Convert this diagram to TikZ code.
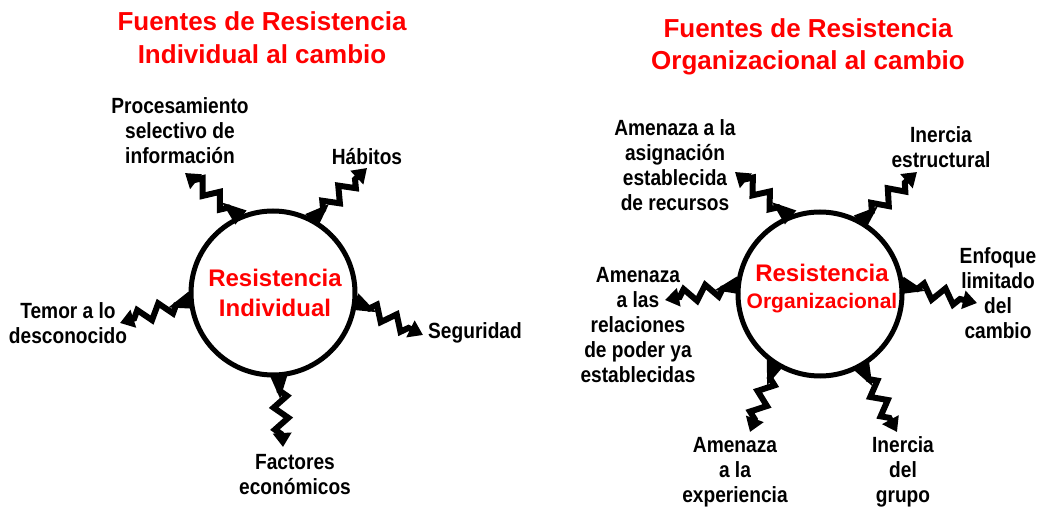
\documentclass[tikz,border=0pt]{standalone}
\usepackage{fontspec}
\setmainfont{Liberation Sans}
\newfontfamily\labfam{Liberation Sans}[FakeStretch=0.87]
\usetikzlibrary{decorations.pathmorphing,arrows.meta,calc}
\definecolor{tred}{RGB}{255,0,0}
\newcommand{\wedgebase}[2]{%
  \fill ($(#1)!9pt!90:(#2)$) -- ($(#1)!24pt!(#2)$) -- ($(#1)!9pt!-90:(#2)$) -- cycle;}
\begin{document}
\begin{tikzpicture}[x=1pt,y=-1pt]
\tikzset{
  ring/.style={circle, draw, line width=5pt, minimum size=164pt, inner sep=0pt, outer sep=0pt},
  lab/.style={font=\labfam\bfseries\fontsize{22}{25}\selectfont, align=center, inner sep=0pt},
  ttl/.style={text=tred, font=\bfseries\fontsize{26}{32.5}\selectfont, align=center, inner sep=0pt},
  ctr/.style={text=tred, font=\bfseries\fontsize{24}{30}\selectfont, align=center, inner sep=0pt},
  bolt/.style={line width=6pt, line join=miter, miter limit=4, decorate,
    decoration={zigzag, segment length=22pt, amplitude=7pt, pre length=16pt, post length=9pt},
    -{Triangle[width=18pt,length=14pt]}}
}
\useasboundingbox (0,0) rectangle (1039,510);

% ---------- left ----------
\node[ttl] (t1) at (262,37.5) {Fuentes de Resistencia\\Individual al cambio};
\node[ring] (L) at (273,293) {};
\node[ctr] (Lc) at (275,293) {Resistencia\\Individual};

\node[lab] (l1) at (180,131) {Procesamiento\\selectivo de\\información};
\node[lab] (l2) at (367,157) {Hábitos};
\node[lab] (l3) at (68,323.5) {Temor a lo\\desconocido};
\node[lab] (l4) at (475,333) {Seguridad};
\node[lab] (l5) at (295,474.5) {Factores\\económicos};

\coordinate (a1) at (185,173);
\coordinate (a2) at (367,168);
\coordinate (a3) at (120,323);
\coordinate (a4) at (423,335);
\coordinate (a5) at (283,447);

\coordinate (s1) at (L.113);
\coordinate (s2) at (L.62);
\coordinate (s3) at (L.185);
\coordinate (s4) at (L.-6);
\coordinate (s5) at (L.-86);

\foreach \i in {1,...,5}{
  \draw[bolt] (s\i) -- (a\i);
  \wedgebase{s\i}{a\i}
}

% ---------- right ----------
\node[ttl] (t2) at (808,47) {Fuentes de Resistencia\\Organizacional al cambio};
\node[ring] (R) at (820,294) {};
\node[ctr, font=\bfseries\fontsize{24}{27}\selectfont] (Rc) at (822,288.5) {Resistencia\\{\fontsize{21}{27}\selectfont Organizacional}};

\node[lab] (r1) at (675,165.5) {Amenaza a la\\asignación\\establecida\\de recursos};
\node[lab] (r2) at (941,147.5) {Inercia\\estructural};
\node[lab] (r3) at (998,293.5) {Enfoque\\limitado\\del\\cambio};
\node[lab] (r4) at (638,325.5) {Amenaza\\a las\\relaciones\\de poder ya\\establecidas};
\node[lab] (r5) at (735,472) {Amenaza\\a la\\experiencia};
\node[lab] (r6) at (903,472) {Inercia\\del\\grupo};

\coordinate (b1) at (735,172);
\coordinate (b2) at (917,172);
\coordinate (b3) at (977,303);
\coordinate (b4) at (665,300);
\coordinate (b5) at (750,432);
\coordinate (b6) at (897,432);

\coordinate (q1) at (R.111);
\coordinate (q2) at (R.61);
\coordinate (q3) at (R.6);
\coordinate (q4) at (R.174);
\coordinate (q5) at (R.-123);
\coordinate (q6) at (R.-60);

\foreach \i in {1,...,6}{
  \draw[bolt] (q\i) -- (b\i);
  \wedgebase{q\i}{b\i}
}
\end{tikzpicture}
\end{document}
